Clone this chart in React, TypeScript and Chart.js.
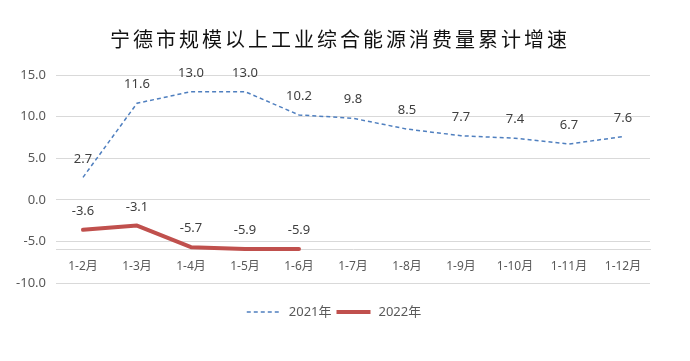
import React, { useEffect, useRef } from 'react';
import { Chart, registerables } from 'chart.js';

Chart.register(...registerables);

const TITLE = '宁德市规模以上工业综合能源消费量累计增速';
const categories = ['1-2月', '1-3月', '1-4月', '1-5月', '1-6月', '1-7月', '1-8月', '1-9月', '1-10月', '1-11月', '1-12月'];
const series2021 = [2.7, 11.6, 13.0, 13.0, 10.2, 9.8, 8.5, 7.7, 7.4, 6.7, 7.6];
const series2022 = [-3.6, -3.1, -5.7, -5.9, -5.9];
const seriesNames = ['2021年', '2022年'];
const yMin = -10;
const yMax = 15;
const yStep = 5;
const axisCross = -6;

const FONT = '"Noto Sans", "Noto Sans CJK SC", sans-serif';
const BLUE = '#4f7fbf';
const RED = '#c0504d';

const overlayPlugin = {
  id: 'overlay',
  afterDatasetsDraw(chart: any) {
    const ctx = chart.ctx;
    ctx.save();
    ctx.font = `13px ${FONT}`;
    ctx.fillStyle = '#404040';
    ctx.textAlign = 'center';
    ctx.textBaseline = 'middle';
    chart.data.datasets.forEach((ds: any, i: number) => {
      const meta = chart.getDatasetMeta(i);
      meta.data.forEach((pt: any, j: number) => {
        const v = ds.data[j];
        if (v == null) return;
        ctx.fillText(Number(v).toFixed(1), pt.x, pt.y - 18.5);
      });
    });
    ctx.restore();
  },
  afterDraw(chart: any) {
    const ctx = chart.ctx;
    // Title
    ctx.save();
    ctx.font = `20px "Noto Sans CJK SC", sans-serif`;
    (ctx as any).letterSpacing = '3px';
    ctx.fillStyle = '#111111';
    ctx.textAlign = 'center';
    ctx.textBaseline = 'middle';
    ctx.fillText(TITLE, 340, 39);
    ctx.restore();

    // Legend
    ctx.save();
    ctx.font = `13px ${FONT}`;
    ctx.textBaseline = 'middle';
    ctx.textAlign = 'left';
    const ly = 312;
    const lineLen = 34;
    const gapLineText = 8;
    const gapItems = 5;
    const items = chart.data.datasets.map((ds: any) => ({
      text: ds.label,
      color: ds.borderColor,
      width: ds.borderWidth,
      dash: ds.borderDash || [],
      tw: ctx.measureText(ds.label).width,
    }));
    let total = 0;
    items.forEach((it: any, i: number) => {
      total += lineLen + gapLineText + it.tw + (i < items.length - 1 ? gapItems : 0);
    });
    let x = 334 - total / 2;
    items.forEach((it: any) => {
      ctx.save();
      ctx.strokeStyle = it.color;
      ctx.lineWidth = it.width;
      ctx.setLineDash(it.dash);
      ctx.beginPath();
      ctx.moveTo(x, ly);
      ctx.lineTo(x + lineLen, ly);
      ctx.stroke();
      ctx.restore();
      x += lineLen + gapLineText;
      ctx.fillStyle = '#595959';
      ctx.fillText(it.text, x, ly);
      x += it.tw + gapItems;
    });
    ctx.restore();
  },
};

export default function App() {
  const canvasRef = useRef<HTMLCanvasElement | null>(null);

  useEffect(() => {
    document.body.style.margin = '0';
    const canvas = canvasRef.current;
    if (!canvas) return;
    const chart = new Chart(canvas, {
      type: 'line',
      data: {
        labels: categories,
        datasets: [
          {
            label: seriesNames[0],
            data: series2021,
            borderColor: BLUE,
            backgroundColor: BLUE,
            borderWidth: 1.5,
            borderDash: [4, 3],
            pointRadius: 0,
            tension: 0,
            fill: false,
          },
          {
            label: seriesNames[1],
            data: series2022,
            borderColor: RED,
            backgroundColor: RED,
            borderWidth: 4,
            borderJoinStyle: 'round',
            borderCapStyle: 'round',
            pointRadius: 0,
            tension: 0,
            fill: false,
          },
        ],
      },
      options: {
        responsive: false,
        animation: false,
        layout: { padding: { top: 75, bottom: 78, left: 0, right: 40 } },
        plugins: {
          legend: { display: false },
          title: { display: false },
          tooltip: { enabled: false },
        },
        scales: {
          x: {
            type: 'category',
            position: { y: axisCross } as any,
            offset: true,
            grid: { display: true, color: 'rgba(0,0,0,0)', drawTicks: false, offset: true },
            border: { display: true, color: '#d9d9d9', width: 1 },
            ticks: {
              color: '#595959',
              font: { size: 12, family: FONT },
              padding: 10,
              maxRotation: 0,
              autoSkip: false,
            },
          },
          y: {
            min: yMin,
            max: yMax,
            ticks: {
              stepSize: yStep,
              color: '#595959',
              font: { size: 13, family: FONT },
              padding: 10,
              callback: (v: any) => Number(v).toFixed(1),
            },
            grid: { color: '#d9d9d9', lineWidth: 1, drawTicks: false },
            border: { display: false },
            afterFit: (axis: any) => {
              axis.width = 56;
            },
          },
        },
      },
      plugins: [overlayPlugin],
    });
    return () => chart.destroy();
  }, []);

  return (
    <div style={{ position: 'absolute', left: 0, top: 0, width: 690, height: 361, background: '#fff' }}>
      <canvas ref={canvasRef} width={690} height={361} />
    </div>
  );
}
